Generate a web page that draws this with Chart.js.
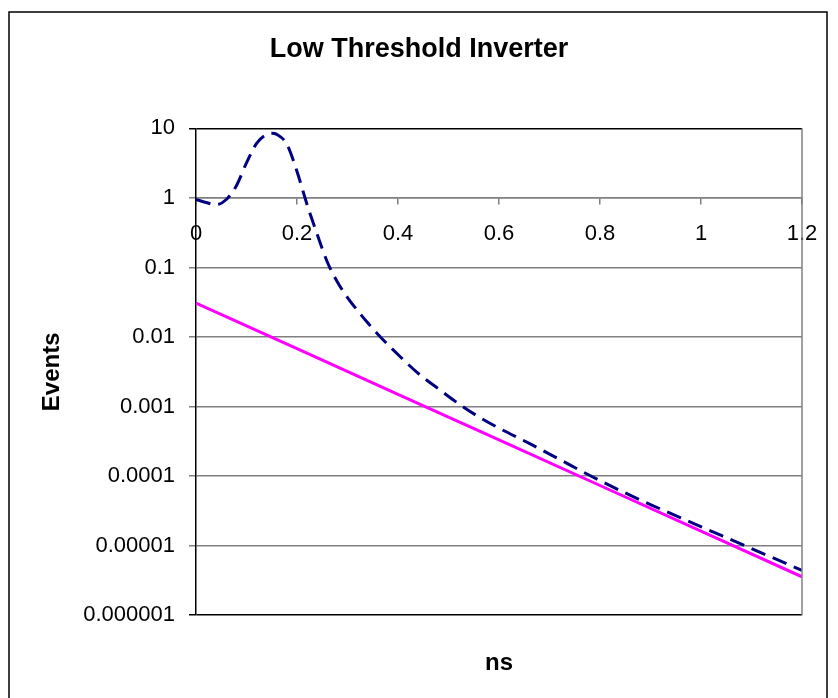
<!DOCTYPE html>
<html>
<head>
<meta charset="utf-8">
<script src="https://cdn.jsdelivr.net/npm/chart.js@4"></script>
<style>
  html, body { margin: 0; padding: 0; background: #fff; }
  #wrap { width: 838px; height: 698px; }
</style>
</head>
<body>
<div id="wrap"><canvas id="myChart" width="838" height="698"></canvas></div>
<script>
// measured curve (dashed)
var nsValues = [0, 0.02, 0.04, 0.06, 0.08, 0.10, 0.12, 0.14, 0.15, 0.16, 0.18, 0.20, 0.22, 0.24, 0.26, 0.28,
  0.30, 0.32, 0.34, 0.36, 0.40, 0.44, 0.48, 0.52, 0.56, 0.60, 0.66, 0.72, 0.78, 0.84, 0.90, 0.96, 1.02, 1.08, 1.14, 1.2];
var eventValues = [0.95, 0.86, 0.80, 0.95, 1.5, 3.2, 6.1, 8.2, 8.5, 8.2, 5.9, 2.4, 0.80, 0.30, 0.12, 0.062,
  0.037, 0.024, 0.016, 0.011, 0.0056, 0.0030, 0.0018, 0.0011, 0.00071, 0.00049, 0.000295, 0.000174, 0.000102,
  0.000062, 0.000039, 0.000025, 0.0000162, 0.0000105, 0.0000068, 0.0000044];

// straight fit line (magenta)
var fitNs = [0, 0.2, 0.4, 0.6, 0.8, 1.0, 1.2];
var fitValues = [0.0308, 0.00681, 0.00150, 0.000332, 0.0000733, 0.0000162, 0.00000357];

var yTickValues = [10, 1, 0.1, 0.01, 0.001, 0.0001, 0.00001, 0.000001];

var font = "'Liberation Sans', Arial, sans-serif";

function toPoints(xs, ys) {
  return xs.map(function (x, i) { return { x: x, y: ys[i] } })
}

// white background, outer frame and gray right edge of the plot
var framePlugin = {
  id: 'frame',
  beforeDraw: function (chart) {
    var ctx = chart.ctx
    ctx.save()
    ctx.fillStyle = '#fff'
    ctx.fillRect(0, 0, chart.width, chart.height)
    ctx.strokeStyle = '#000'
    ctx.lineWidth = 1.5
    ctx.strokeRect(9, 12, 818, 690)
    ctx.restore()
  },
  afterDraw: function (chart) {
    var a = chart.chartArea
    var ctx = chart.ctx
    ctx.save()
    ctx.strokeStyle = '#808080'
    ctx.lineWidth = 1.5
    ctx.beginPath()
    ctx.moveTo(a.right, a.top)
    ctx.lineTo(a.right, a.bottom)
    ctx.stroke()
    ctx.restore()
  }
}

new Chart('myChart', {
  type: 'line',
  data: {
    datasets: [{
      data: toPoints(nsValues, eventValues),
      borderColor: '#000080',
      borderWidth: 3,
      borderDash: [15, 8],
      pointRadius: 0,
      cubicInterpolationMode: 'monotone'
    }, {
      data: toPoints(fitNs, fitValues),
      borderColor: '#FF00FF',
      borderWidth: 3,
      pointRadius: 0
    }]
  },
  options: {
    responsive: false,
    animation: false,
    layout: { padding: { left: 36, right: 36, top: 0, bottom: 0 } },
    plugins: {
      legend: { display: false },
      tooltip: { enabled: false },
      title: {
        display: true,
        text: 'Low Threshold Inverter',
        color: '#000',
        font: { family: font, size: 27, weight: 'bold' },
        padding: { top: 33, bottom: 63 }
      },
      subtitle: {
        display: true,
        text: 'ns',
        position: 'bottom',
        fullSize: false,
        color: '#000',
        font: { family: font, size: 24, weight: 'bold' },
        padding: { top: 34, bottom: 20 }
      }
    },
    scales: {
      x: {
        type: 'linear',
        min: 0,
        max: 1.2,
        position: { y: 1 },
        border: { color: '#808080', width: 1.5 },
        grid: { display: true, drawOnChartArea: false, drawTicks: true, tickLength: 6, color: '#808080', lineWidth: 1.5 },
        ticks: {
          stepSize: 0.2,
          padding: 17,
          color: '#000',
          maxRotation: 0,
          font: { family: font, size: 22 },
          callback: function (v) { return String(+v.toFixed(1)) }
        }
      },
      y: {
        type: 'logarithmic',
        min: 0.000001,
        max: 10,
        afterBuildTicks: function (scale) {
          scale.ticks = yTickValues.map(function (v) { return { value: v } })
        },
        afterFit: function (scale) { scale.width = 160 },
        border: { color: '#000', width: 1.5 },
        grid: {
          color: function (c) {
            var v = c.tick && c.tick.value
            return (v === 10 || v === 0.000001) ? '#000' : '#808080'
          },
          lineWidth: 1.5,
          tickLength: 7
        },
        ticks: {
          padding: 14,
          color: '#000',
          font: { family: font, size: 22 },
          callback: function (v) {
            var k = Math.round(Math.log10(v))
            return k >= 0 ? String(Math.round(v)) : v.toFixed(-k)
          }
        },
        title: {
          display: true,
          text: 'Events',
          color: '#000',
          font: { family: font, size: 24, weight: 'bold' },
          padding: { top: 2, bottom: 0 }
        }
      }
    }
  },
  plugins: [framePlugin]
});
</script>
</body>
</html>
